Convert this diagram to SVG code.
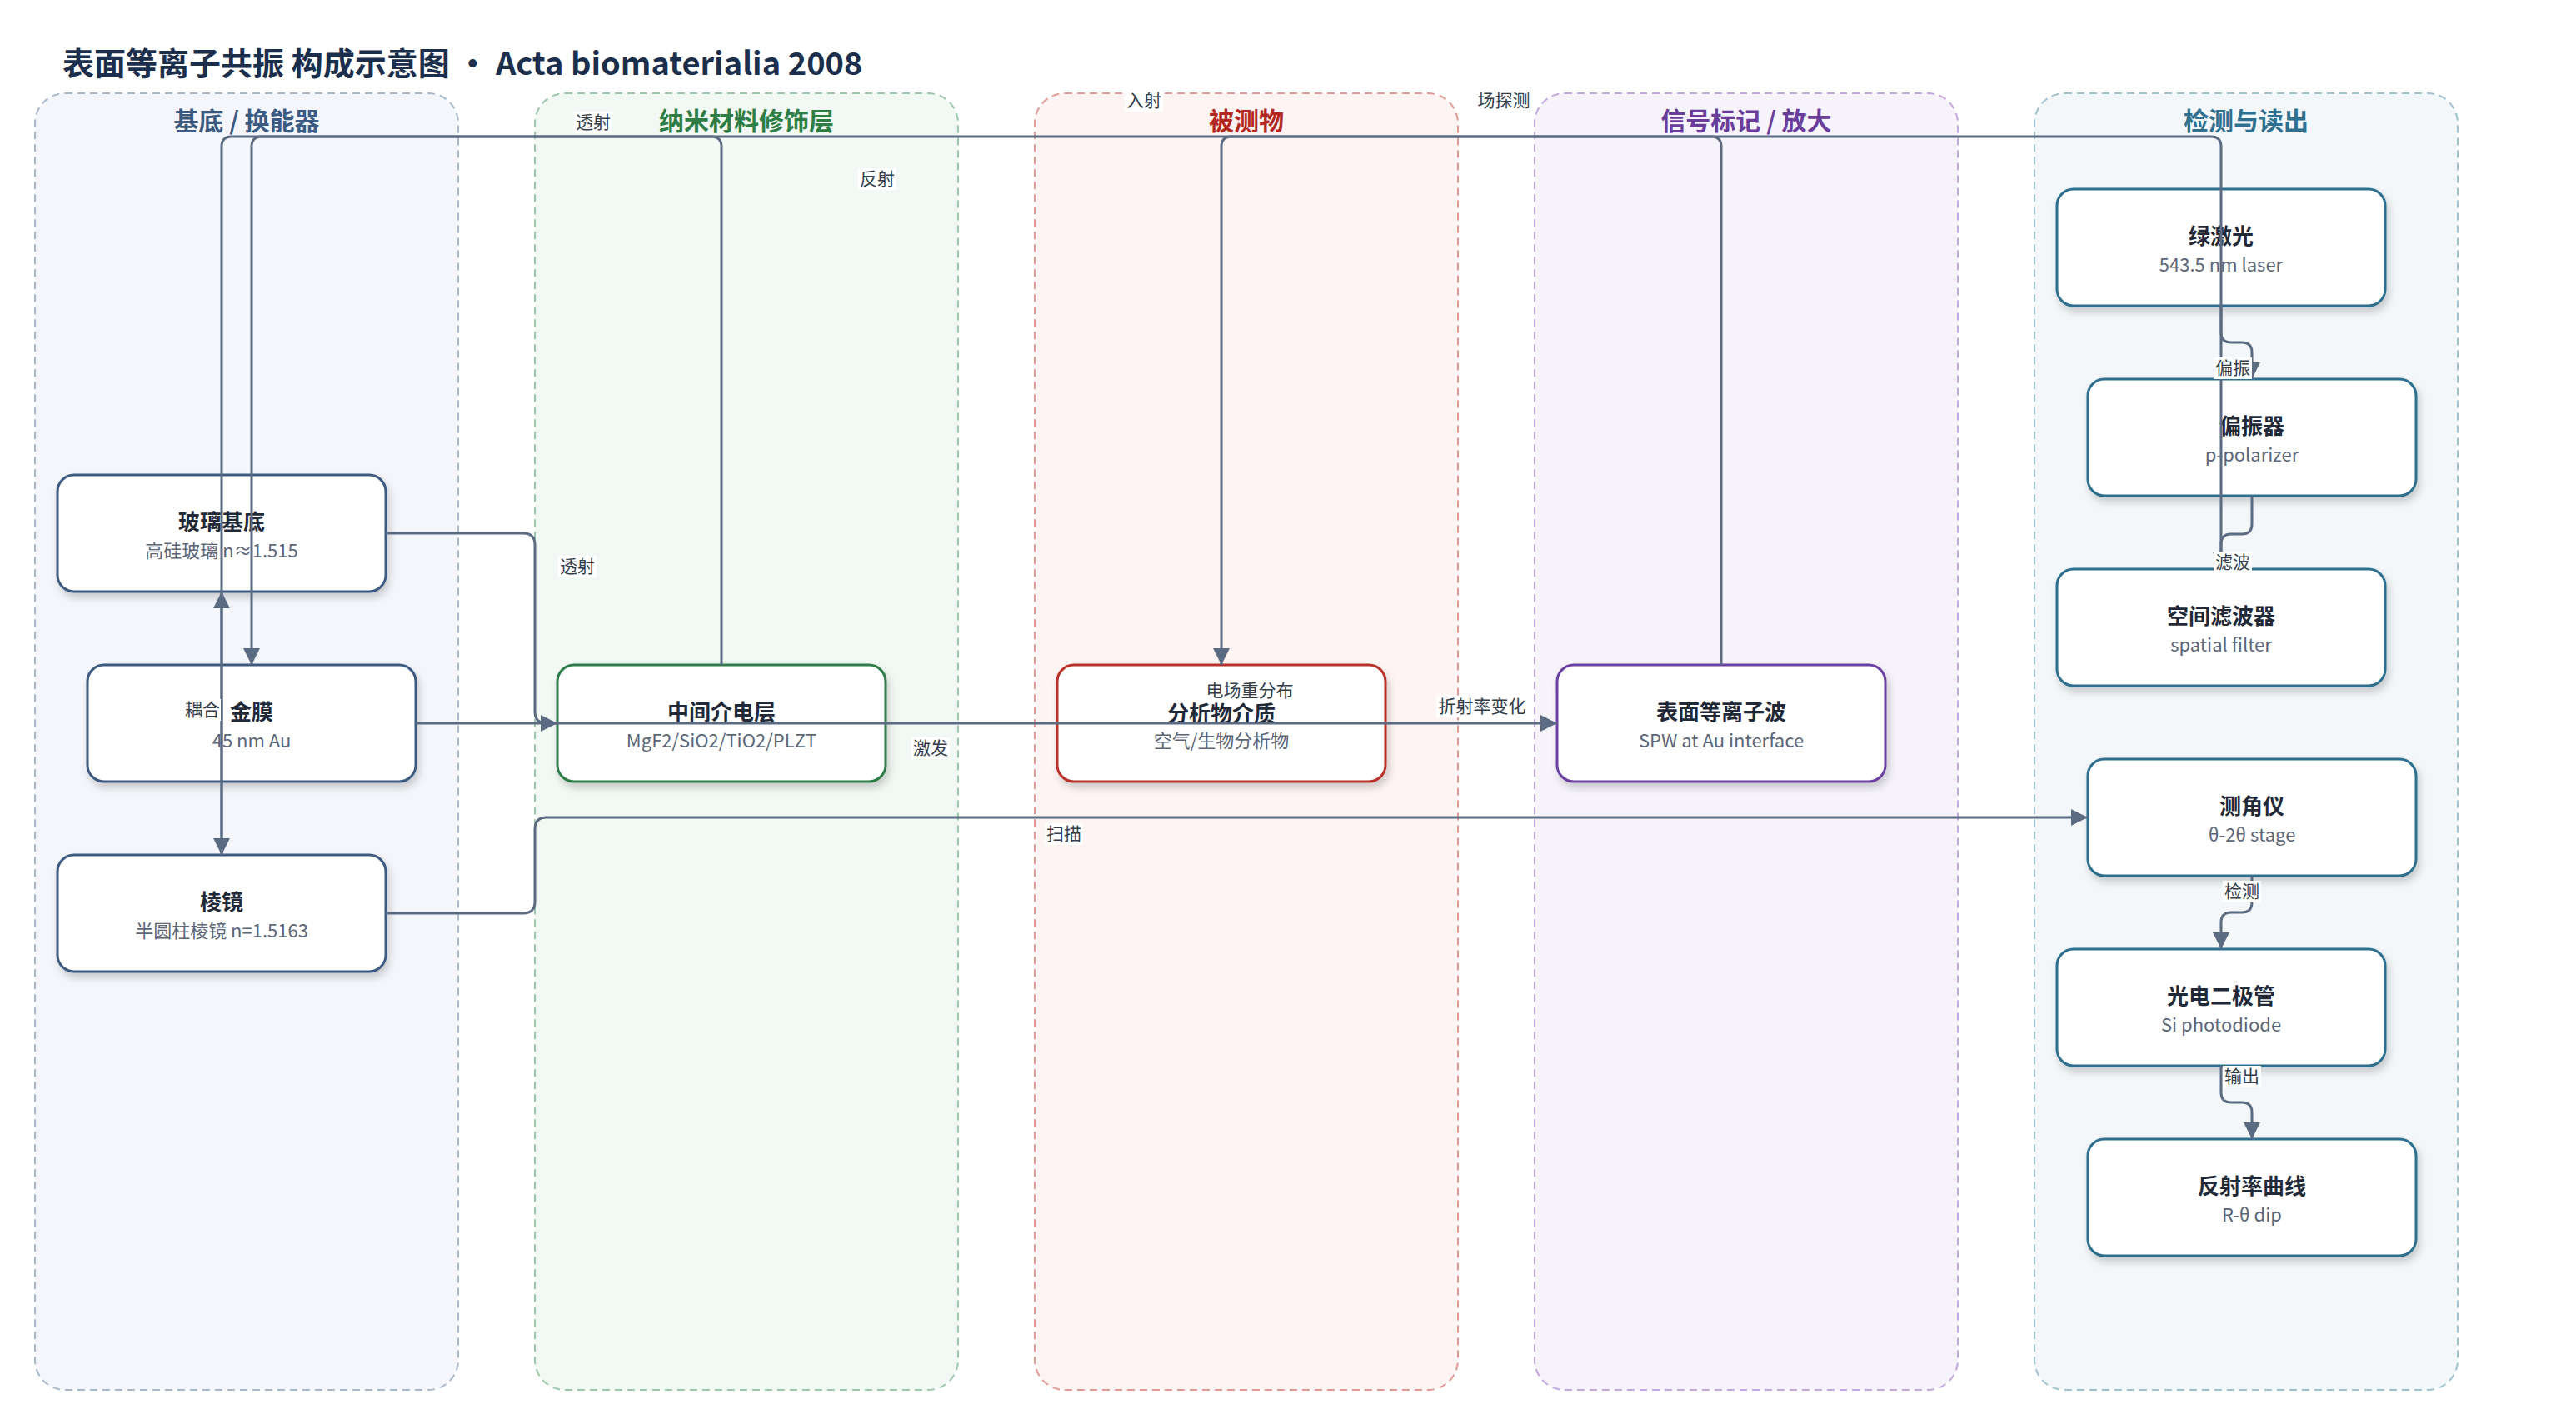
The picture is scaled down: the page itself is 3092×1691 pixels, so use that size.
<svg xmlns="http://www.w3.org/2000/svg" width="3092" height="1691" viewBox="0 0 3092 1691">
<defs>
<style>
text{font-family:"Noto Sans CJK SC","Noto Sans",sans-serif}
.title{font-size:38px;font-weight:700;fill:#1b2f4d}
.lane{stroke-width:2;stroke-dasharray:9 6}
.lt{font-size:30px;font-weight:700;text-anchor:middle}
.node{fill:#fff;stroke-width:3;filter:url(#sh)}
.nt{font-size:26px;font-weight:700;fill:#1f2937;text-anchor:middle}
.ns{font-size:22px;fill:#5b6678;text-anchor:middle}
.e{fill:none;stroke:#5b6b82;stroke-width:3}
.ea{marker-end:url(#arr)}
.lb{fill:#fff}
.lbt{font-size:21px;fill:#333d4a;text-anchor:middle}
</style>
<filter id="sh" x="-10%" y="-10%" width="125%" height="135%">
<feDropShadow dx="3" dy="6" stdDeviation="5" flood-color="#000" flood-opacity="0.18"/>
</filter>
<marker id="arr" viewBox="0 0 20 20" refX="20" refY="10" markerWidth="20" markerHeight="20" markerUnits="userSpaceOnUse" orient="auto">
<path d="M0,0 L20,10 L0,20 z" fill="#5b6b82"/>
</marker>
</defs>
<rect width="3092" height="1691" fill="#fff"/>
<text class="title" x="75" y="90">表面等离子共振 构成示意图 • Acta biomaterialia 2008</text>

<g id="lanes">
<g id="lane-substrate">
<rect class="lane" x="42" y="112" width="508" height="1556" rx="36" fill="#f4f6fb" stroke="#a8b8cc"/>
<text class="lt" x="296" y="156" fill="#3b5a82">基底 / 换能器</text>
</g>
<g id="lane-nano">
<rect class="lane" x="642" y="112" width="508" height="1556" rx="36" fill="#f2f8f4" stroke="#9cc8aa"/>
<text class="lt" x="896" y="156" fill="#2e7d45">纳米材料修饰层</text>
</g>
<g id="lane-analyte">
<rect class="lane" x="1242" y="112" width="508" height="1556" rx="36" fill="#fdf4f3" stroke="#e39a94"/>
<text class="lt" x="1496" y="156" fill="#b3261e">被测物</text>
</g>
<g id="lane-signal">
<rect class="lane" x="1842" y="112" width="508" height="1556" rx="36" fill="#f6f3fb" stroke="#c3a8e0"/>
<text class="lt" x="2096" y="156" fill="#6a3d9a">信号标记 / 放大</text>
</g>
<g id="lane-detect">
<rect class="lane" x="2442" y="112" width="508" height="1556" rx="36" fill="#f3f7f9" stroke="#9ec2d0"/>
<text class="lt" x="2696" y="156" fill="#2f6f8f">检测与读出</text>
</g>
</g>

<g id="nodes">
<g id="n-glass"><rect class="node" x="69" y="570" width="394" height="140" rx="20" stroke="#3d5a80"/><text class="nt" x="266" y="636">玻璃基底</text><text class="ns" x="266" y="669">高硅玻璃 n≈1.515</text></g>
<g id="n-gold"><rect class="node" x="105" y="798" width="394" height="140" rx="20" stroke="#3d5a80"/><text class="nt" x="302" y="864">金膜</text><text class="ns" x="302" y="897">45 nm Au</text></g>
<g id="n-prism"><rect class="node" x="69" y="1026" width="394" height="140" rx="20" stroke="#3d5a80"/><text class="nt" x="266" y="1092">棱镜</text><text class="ns" x="266" y="1125">半圆柱棱镜 n=1.5163</text></g>
<g id="n-dielectric"><rect class="node" x="669" y="798" width="394" height="140" rx="20" stroke="#2e7d4a"/><text class="nt" x="866" y="864">中间介电层</text><text class="ns" x="866" y="897">MgF2/SiO2/TiO2/PLZT</text></g>
<g id="n-analyte"><rect class="node" x="1269" y="798" width="394" height="140" rx="20" stroke="#b8312a"/><text class="nt" x="1466" y="866">分析物介质</text><text class="ns" x="1466" y="897">空气/生物分析物</text></g>
<g id="n-spw"><rect class="node" x="1869" y="798" width="394" height="140" rx="20" stroke="#6b40a0"/><text class="nt" x="2066" y="864">表面等离子波</text><text class="ns" x="2066" y="897">SPW at Au interface</text></g>
<g id="n-laser"><rect class="node" x="2469" y="227" width="394" height="140" rx="20" stroke="#2e6e8e"/><text class="nt" x="2666" y="293">绿激光</text><text class="ns" x="2666" y="326">543.5 nm laser</text></g>
<g id="n-polarizer"><rect class="node" x="2506" y="455" width="394" height="140" rx="20" stroke="#2e6e8e"/><text class="nt" x="2703" y="521">偏振器</text><text class="ns" x="2703" y="554">p-polarizer</text></g>
<g id="n-filter"><rect class="node" x="2469" y="683" width="394" height="140" rx="20" stroke="#2e6e8e"/><text class="nt" x="2666" y="749">空间滤波器</text><text class="ns" x="2666" y="782">spatial filter</text></g>
<g id="n-gonio"><rect class="node" x="2506" y="911" width="394" height="140" rx="20" stroke="#2e6e8e"/><text class="nt" x="2703" y="977">测角仪</text><text class="ns" x="2703" y="1010">θ-2θ stage</text></g>
<g id="n-pd"><rect class="node" x="2469" y="1139" width="394" height="140" rx="20" stroke="#2e6e8e"/><text class="nt" x="2666" y="1205">光电二极管</text><text class="ns" x="2666" y="1238">Si photodiode</text></g>
<g id="n-curve"><rect class="node" x="2506" y="1367" width="394" height="140" rx="20" stroke="#2e6e8e"/><text class="nt" x="2703" y="1433">反射率曲线</text><text class="ns" x="2703" y="1466">R-θ dip</text></g>
</g>

<g id="connectors">
<path class="e ea" d="M2666,683 L2666,176 Q2666,164 2654,164 L278,164 Q266,164 266,176 L266,1026"/>
<path class="e ea" d="M866,798 L866,176 Q866,164 854,164 L314,164 Q302,164 302,176 L302,798"/>
<path class="e ea" d="M2066,798 L2066,176 Q2066,164 2054,164 L1478,164 Q1466,164 1466,176 L1466,798"/>
<path class="e ea" d="M463,640 L628,640 Q642,640 642,654 L642,854 Q642,868 656,868 L669,868"/>
<path class="e ea" d="M499,868 L1869,868"/>
<path class="e ea" d="M463,1096 L628,1096 Q642,1096 642,1082 L642,995 Q642,981 656,981 L2506,981"/>
<path class="e ea" d="M266,1026 L266,710"/>
<path class="e ea" d="M2666,367 L2666,399 Q2666,411 2678,411 L2691,411 Q2703,411 2703,423 L2703,455"/>
<path class="e ea" d="M2703,595 L2703,629 Q2703,641 2691,641 L2678,641 Q2666,641 2666,653 L2666,683"/>
<path class="e ea" d="M2703,1051 L2703,1083 Q2703,1095 2691,1095 L2678,1095 Q2666,1095 2666,1107 L2666,1139"/>
<path class="e ea" d="M2666,1279 L2666,1311 Q2666,1323 2678,1323 L2691,1323 Q2703,1323 2703,1335 L2703,1367"/>
<g id="edge-labels">
<rect class="lb" x="689" y="134" width="46" height="26"/><text class="lbt" x="712" y="154">透射</text>
<rect class="lb" x="1030" y="202" width="46" height="26"/><text class="lbt" x="1053" y="222">反射</text>
<rect class="lb" x="1350" y="108" width="46" height="26"/><text class="lbt" x="1373" y="128">入射</text>
<rect class="lb" x="1771" y="108" width="68" height="26"/><text class="lbt" x="1805" y="128">场探测</text>
<rect class="lb" x="221" y="839" width="44" height="26"/><text class="lbt" x="243" y="859">耦合</text>
<rect class="lb" x="670" y="667" width="46" height="26"/><text class="lbt" x="693" y="687">透射</text>
<rect class="lb" x="1094" y="885" width="46" height="26"/><text class="lbt" x="1117" y="905">激发</text>
<text class="lbt" x="1500" y="836">电场重分布</text>
<rect class="lb" x="1724" y="835" width="110" height="26"/><text class="lbt" x="1779" y="855">折射率变化</text>
<rect class="lb" x="1254" y="988" width="46" height="26"/><text class="lbt" x="1277" y="1008">扫描</text>
<rect class="lb" x="2657" y="429" width="46" height="26"/><text class="lbt" x="2680" y="449">偏振</text>
<rect class="lb" x="2657" y="662" width="46" height="26"/><text class="lbt" x="2680" y="682">滤波</text>
<rect class="lb" x="2668" y="1057" width="46" height="26"/><text class="lbt" x="2691" y="1077">检测</text>
<rect class="lb" x="2668" y="1279" width="46" height="26"/><text class="lbt" x="2691" y="1299">输出</text>
</g>
</g>
</svg>
